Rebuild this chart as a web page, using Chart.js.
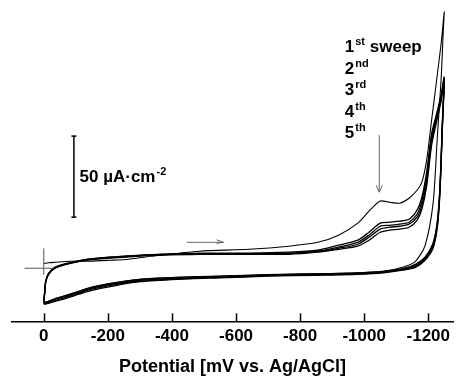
<!DOCTYPE html>
<html>
<head>
<meta charset="utf-8">
<script src="https://cdn.jsdelivr.net/npm/chart.js@4/dist/chart.umd.min.js"></script>
<style>
  html, body { margin: 0; padding: 0; background: #fff; }
  #wrap { width: 456px; height: 376px; }
</style>
</head>
<body>
<div id="wrap"><canvas id="cv" width="456" height="376"></canvas></div>
<script>
// potential grid (mV vs Ag/AgCl) for the cathodic (forward) and return branches
var fwdPotential = [0, -3, -6, -15, -35, -80, -140, -205, -265, -360, -485, -640, -765, -855, -920, -980, -1015, -1050, -1080, -1110, -1140, -1165, -1180, -1195, -1210, -1225, -1240, -1250];
var revPotential = [-1250, -1247, -1245, -1243, -1240, -1235, -1228, -1215, -1190, -1160, -1120, -1060, -980, -850, -700, -550, -420, -300, -220, -150, -110, -70, -35, -15, 0];

// current density (uA/cm2)
var sweep1Fwd = [3.1, 3.1, 3.1, 3.4, 3.7, 4.3, 4.3, 4.9, 5.6, 8.0, 10.5, 11.7, 13.6, 16.0, 20.4, 27.8, 35.2, 41.4, 40.7, 40.1, 43.2, 48.1, 53.1, 66.7, 90.7, 114.2, 138.3, 158.0];
var sweep2Fwd = [-21.6, -14.8, -8.6, -3.1, 0.6, 3.1, 5.6, 6.8, 7.7, 8.6, 9.3, 9.3, 9.9, 11.1, 14.2, 17.3, 22.2, 27.8, 28.4, 29.0, 30.2, 35.8, 43.8, 59.3, 82.7, 94.4, 106.8, 117.9];
var sweep3Fwd = [-21.0, -14.2, -8.0, -3.1, 0.6, 3.4, 5.6, 6.8, 7.4, 8.6, 9.0, 9.0, 9.3, 10.5, 13.0, 16.0, 20.4, 25.9, 26.5, 27.2, 28.4, 33.3, 41.4, 56.2, 80.2, 93.2, 105.6, 117.3];
var sweep4Fwd = [-21.6, -14.8, -8.6, -3.7, 0.0, 3.1, 5.2, 6.5, 7.4, 8.3, 9.0, 8.6, 9.0, 10.2, 12.3, 14.8, 19.1, 24.1, 25.3, 25.9, 27.2, 31.5, 38.9, 53.7, 77.8, 91.4, 104.3, 116.7];
var sweep5Fwd = [-21.0, -14.2, -8.0, -3.7, 0.0, 2.8, 5.2, 6.2, 7.1, 8.0, 8.6, 8.6, 8.6, 9.9, 11.7, 13.6, 17.3, 22.2, 23.5, 24.1, 25.3, 29.6, 36.4, 50.6, 75.3, 89.5, 103.1, 116.0];

var sweep1Rev = [158.0, 146.9, 137.7, 128.4, 116.0, 101.0, 80.0, 40.0, 14.0, 4.3, 0.6, -1.9, -2.8, -3.4, -4.0, -4.9, -5.6, -6.8, -9.0, -11.7, -14.2, -16.7, -18.8, -20.4, -21.6];
var sweep2Rev = [117.9, 103.7, 94.4, 85.2, 66.7, 45.1, 28.4, 15.4, 6.8, 2.5, -0.3, -1.9, -2.8, -3.4, -4.0, -4.9, -5.6, -6.8, -9.0, -11.7, -14.2, -16.7, -18.8, -20.4, -21.6];
var sweep3Rev = [117.3, 102.5, 93.2, 84.0, 65.4, 43.8, 27.2, 14.8, 6.2, 1.9, -0.6, -2.2, -3.1, -3.7, -4.3, -5.2, -6.2, -7.4, -9.6, -12.3, -14.8, -17.3, -19.1, -20.4, -21.0];
var sweep4Rev = [116.7, 101.2, 92.0, 82.7, 64.2, 42.6, 25.9, 13.6, 5.6, 1.2, -0.9, -2.5, -3.4, -4.0, -4.6, -5.6, -6.5, -8.0, -10.2, -12.9, -15.4, -17.9, -19.8, -21.0, -21.6];
var sweep5Rev = [116.0, 100.0, 90.7, 81.5, 63.0, 41.4, 24.7, 12.3, 4.9, 0.6, -1.2, -2.8, -3.7, -4.3, -4.9, -5.9, -6.8, -8.3, -10.8, -13.6, -16.0, -18.5, -20.4, -21.6, -22.2];

var tickValues = [0, -200, -400, -600, -800, -1000, -1200];
var tickLabels = ['0', '-200', '-400', '-600', '-800', '-1000', '-1200'];
var sweepLabels = [['1', 'st', ' sweep'], ['2', 'nd', ''], ['3', 'rd', ''], ['4', 'th', ''], ['5', 'th', '']];

var FONT = '"Liberation Sans", Arial, sans-serif';

function buildLoop(fwd, rev) {
    var pts = [];
    for (var i = 0; i < fwdPotential.length; i++) pts.push({ x: fwdPotential[i], y: fwd[i] });
    for (var j = 1; j < revPotential.length; j++) pts.push({ x: revPotential[j], y: rev[j] });
    return pts;
}

var loops = [
    buildLoop(sweep1Fwd, sweep1Rev),
    buildLoop(sweep2Fwd, sweep2Rev),
    buildLoop(sweep3Fwd, sweep3Rev),
    buildLoop(sweep4Fwd, sweep4Rev),
    buildLoop(sweep5Fwd, sweep5Rev)
];

var annotate = {
    id: 'annotate',
    afterDatasetsDraw: function (chart) {
        var ctx = chart.ctx;
        var xs = chart.scales.x, ys = chart.scales.y;
        var area = chart.chartArea;
        function px(v) { return xs.getPixelForValue(v); }
        function py(v) { return ys.getPixelForValue(v); }
        function line(x1, y1, x2, y2) {
            ctx.beginPath(); ctx.moveTo(x1, y1); ctx.lineTo(x2, y2); ctx.stroke();
        }
        function supText(main, sup, rest, x, y) {
            ctx.font = 'bold 17px ' + FONT;
            ctx.fillText(main, x, y);
            var w = ctx.measureText(main).width;
            ctx.font = 'bold 11px ' + FONT;
            ctx.fillText(sup, x + w + 1, y - 5);
            var w2 = ctx.measureText(sup).width;
            if (rest) {
                ctx.font = 'bold 17px ' + FONT;
                ctx.fillText(rest, x + w + w2 + 1, y);
            }
        }

        ctx.save();
        ctx.lineCap = 'butt';

        // inward tick marks
        ctx.strokeStyle = '#000';
        ctx.lineWidth = 1.5;
        tickValues.forEach(function (v) {
            var x = Math.round(px(v)) + 0.5;
            line(x, area.bottom, x, area.bottom - 8);
        });

        // zero crosshair
        ctx.strokeStyle = '#555';
        ctx.lineWidth = 1;
        line(px(60), py(0), px(-30), py(0));
        line(px(0), py(12.3), px(0), py(-4));

        // scale bar 50 uA/cm2
        ctx.strokeStyle = '#000';
        ctx.lineWidth = 1.5;
        var bx = px(-94);
        line(bx, py(81.5), bx, py(31.5));
        line(bx - 2.5, py(81.5), bx + 2.5, py(81.5));
        line(bx - 2.5, py(31.5), bx + 2.5, py(31.5));

        ctx.fillStyle = '#000';
        ctx.textBaseline = 'middle';
        ctx.textAlign = 'left';
        supText('50 \u00b5A\u00b7cm', '-2', '', px(-111.6), py(56.2));

        // sweep labels
        var labelY = [136.4, 122.8, 109.9, 96.3, 83.3];
        sweepLabels.forEach(function (s, i) {
            supText(s[0], s[1], s[2], px(-939.5), py(labelY[i]));
        });

        // arrows
        ctx.strokeStyle = '#666';
        ctx.lineWidth = 1;
        var ax = px(-1047), ay1 = py(82.1), ay2 = py(46.9);
        line(ax, ay1, ax, ay2);
        line(ax - 3, ay2 - 7, ax, ay2);
        line(ax + 3, ay2 - 7, ax, ay2);

        var hy = py(16.0), hx1 = px(-446.5), hx2 = px(-561);
        line(hx1, hy, hx2, hy);
        line(hx2 - 7, hy - 2.5, hx2, hy);
        line(hx2 - 7, hy + 1, hx2, hy);

        ctx.restore();
    }
};

var datasets = loops.map(function (pts, i) {
    return {
        data: pts,
        borderColor: '#000',
        borderWidth: i === 0 ? 1.1 : 1.3,
        pointRadius: 0,
        tension: 0.25,
        fill: false
    };
});

var chart = new Chart(document.getElementById('cv'), {
    type: 'line',
    data: { datasets: datasets },
    options: {
        responsive: false,
        animation: false,
        layout: { padding: { left: 12, right: 0, top: 0, bottom: 0 } },
        plugins: { legend: { display: false }, tooltip: { enabled: false } },
        scales: {
            x: {
                type: 'linear',
                reverse: true,
                min: -1277.5,
                max: 99.2,
                afterBuildTicks: function (scale) {
                    scale.ticks = tickValues.map(function (v) { return { value: v }; });
                },
                ticks: {
                    autoSkip: false,
                    maxRotation: 0,
                    padding: 6,
                    color: '#000',
                    font: { family: FONT, size: 17, weight: 'bold', lineHeight: 1.1 },
                    callback: function (v, i) { return tickLabels[i]; }
                },
                grid: { display: true, drawOnChartArea: false, drawTicks: false },
                border: { display: true, color: '#000', width: 1.5 },
                title: {
                    display: true,
                    text: 'Potential [mV vs. Ag/AgCl]',
                    color: '#000',
                    font: { family: FONT, size: 18, weight: 'bold', lineHeight: 1.0 },
                    padding: { top: 6, bottom: 0 }
                }
            },
            y: {
                type: 'linear',
                display: false,
                min: -32.7,
                max: 165.4
            }
        }
    },
    plugins: [annotate]
});
</script>
</body>
</html>
